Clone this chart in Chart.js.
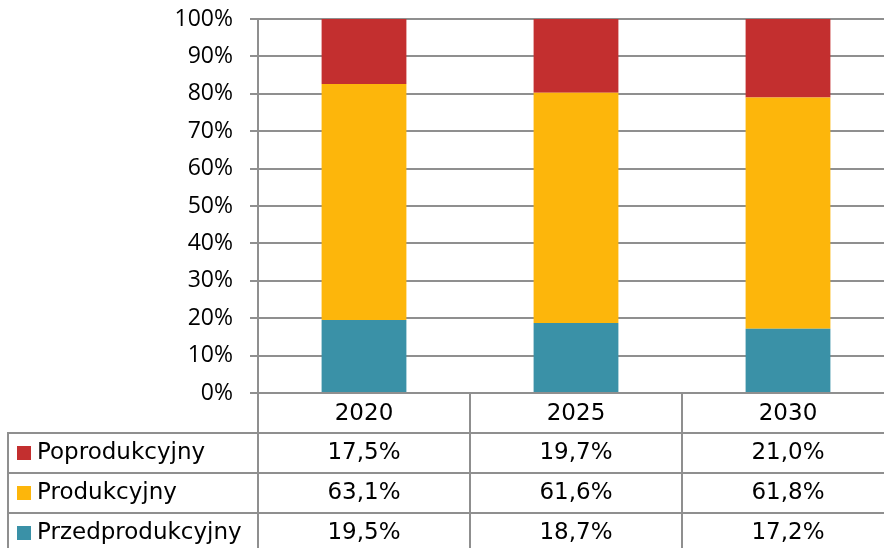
<!DOCTYPE html>
<html>
<head>
<meta charset="utf-8">
<script src="https://cdn.jsdelivr.net/npm/chart.js@4.4.1/dist/chart.umd.min.js"></script>
<style>
  html, body { margin: 0; padding: 0; background: #fff; overflow: hidden; }
  #wrap { width: 884px; height: 548px; overflow: hidden; }
  #c { display: block; }
</style>
</head>
<body>
<div id="wrap"><canvas id="c" width="894" height="548"></canvas></div>
<script>
const categories = ['2020', '2025', '2030'];
const seriesNames = ['Przedprodukcyjny', 'Produkcyjny', 'Poprodukcyjny'];
const przedprodukcyjny = [19.5, 18.7, 17.2];
const produkcyjny = [63.1, 61.6, 61.8];
const poprodukcyjny = [17.5, 19.7, 21.0];
const seriesColors = ['#3A91A7', '#FDB60B', '#C32F2F'];
const yTicks = [0, 10, 20, 30, 40, 50, 60, 70, 80, 90, 100];

const GRID = '#8f8f8f';
const TABLE_FONT = '23px "DejaVu Sans"';

const tablePlugin = {
  id: 'dataTable',
  afterDraw(chart) {
    const ctx = chart.ctx;
    const area = chart.chartArea;
    const xs = chart.scales.x;
    const n = chart.data.labels.length;
    const colW = (area.right - area.left) / n;
    const rowH = 40;
    const headBottom = area.bottom + rowH;
    const W = chart.width, H = chart.height;
    const leftEdge = 8;
    ctx.save();
    ctx.strokeStyle = GRID;
    ctx.lineWidth = 2;
    ctx.beginPath();
    for (let k = 0; k < n; k++) {
      const x = Math.round(area.left + k * colW);
      ctx.moveTo(x, area.bottom);
      ctx.lineTo(x, H);
    }
    ctx.moveTo(leftEdge, headBottom);
    ctx.lineTo(leftEdge, H);
    for (let r = 0; r < 3; r++) {
      const y = headBottom + r * rowH;
      ctx.moveTo(leftEdge - 1, y);
      ctx.lineTo(W, y);
    }
    ctx.stroke();

    ctx.fillStyle = '#000';
    ctx.font = TABLE_FONT;
    ctx.textBaseline = 'middle';
    ctx.textAlign = 'center';
    chart.data.labels.forEach((lab, i) => {
      ctx.fillText(lab, xs.getPixelForValue(i), area.bottom + rowH / 2 + 1);
    });
    const ds = chart.data.datasets.slice().reverse();
    ds.forEach((d, r) => {
      const yc = headBottom + r * rowH + rowH / 2;
      ctx.fillStyle = d.backgroundColor;
      ctx.fillRect(17, Math.round(yc - 7), 14, 14);
      ctx.fillStyle = '#000';
      ctx.textAlign = 'left';
      ctx.fillText(d.label, 37, yc);
      ctx.textAlign = 'center';
      d.data.forEach((v, i) => {
        ctx.fillText(v.toFixed(1).replace('.', ',') + '%', xs.getPixelForValue(i), yc);
      });
    });
    ctx.restore();
  }
};

const seriesData = [przedprodukcyjny, produkcyjny, poprodukcyjny];

new Chart(document.getElementById('c'), {
  type: 'bar',
  data: {
    labels: categories,
    datasets: seriesNames.map((name, i) => ({
      label: name,
      data: seriesData[i],
      backgroundColor: seriesColors[i],
      borderWidth: 0,
      categoryPercentage: 1,
      barPercentage: 0.40
    }))
  },
  options: {
    responsive: false,
    animation: false,
    devicePixelRatio: 1,
    layout: { padding: { left: 0, top: 19, right: 0, bottom: 0 } },
    plugins: { legend: { display: false }, tooltip: { enabled: false } },
    scales: {
      x: {
        stacked: true,
        grid: { display: false },
        border: { display: false },
        ticks: { display: false },
        afterFit(scale) { scale.height = 155; scale.paddingLeft = 0; scale.paddingRight = 0; }
      },
      y: {
        stacked: true,
        min: 0,
        max: 100,
        afterBuildTicks(scale) { scale.ticks = yTicks.map(v => ({ value: v })); },
        grid: { color: GRID, lineWidth: 2, tickLength: 8, drawTicks: true },
        border: { display: true, color: GRID, width: 2 },
        ticks: {
          padding: 17,
          color: '#000',
          font: { family: '"Open Sans"', size: 23 },
          callback: v => v + '%'
        },
        afterFit(scale) { scale.width = 258; scale.paddingTop = 0; scale.paddingBottom = 0; }
      }
    }
  },
  plugins: [tablePlugin]
});
</script>
</body>
</html>
